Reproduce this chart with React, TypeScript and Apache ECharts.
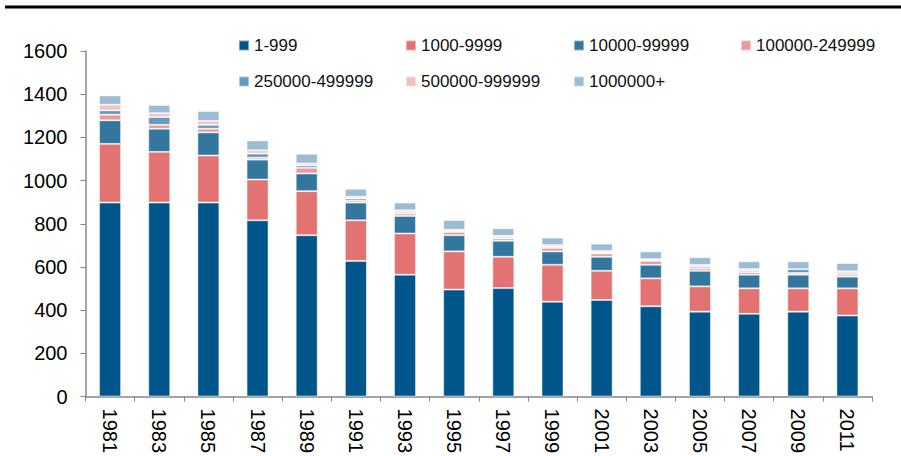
import React, { useEffect, useRef } from "react";
import * as echarts from "echarts";

const years = ["1981", "1983", "1985", "1987", "1989", "1991", "1993", "1995", "1997", "1999", "2001", "2003", "2005", "2007", "2009", "2011"];
const seriesNames = ["1-999", "1000-9999", "10000-99999", "100000-249999", "250000-499999", "500000-999999", "1000000+"];
const s1 = [898, 898, 898, 816, 747, 628, 564, 495, 502, 439, 447, 418, 393, 383, 393, 375];
const s2 = [272, 235, 218, 189, 204, 188, 191, 177, 145, 171, 135, 129, 117, 118, 108, 126];
const s3 = [109, 107, 107, 92, 82, 82, 81, 75, 74, 62, 65, 63, 72, 63, 63, 54];
const s4 = [26, 18, 17, 9, 26, 9, 11, 15, 11, 16, 15, 18, 11, 11, 8, 9];
const s5 = [20, 36, 18, 19, 11, 10, 7, 3, 7, 5, 5, 5, 8, 7, 18, 8];
const s6 = [26, 18, 18, 15, 9, 8, 8, 7, 5, 8, 7, 3, 8, 8, 0, 8];
const s7 = [43, 38, 46, 46, 45, 37, 36, 45, 35, 35, 34, 36, 36, 36, 36, 38];
const seriesData = [s1, s2, s3, s4, s5, s6, s7];
const colors = ["#00568a", "#e37272", "#33779f", "#ec9898", "#6699bb", "#f2c1c1", "#9bbcd2"];
const yTicks = { min: 0, max: 1600, interval: 200 };

const legendLeft = [238, 405, 573, 740, 238, 405, 573];
const legendTop = [37, 37, 37, 37, 73, 73, 73];

export default function App() {
  const ref = useRef<HTMLDivElement>(null);
  useEffect(() => {
    if (!ref.current) return;
    const chart = echarts.init(ref.current, null, { renderer: "svg" });
    const font = "'Liberation Sans', Arial, sans-serif";
    chart.setOption({
      animation: false,
      backgroundColor: "#ffffff",
      textStyle: { fontFamily: font },
      grid: { left: 85.5, right: 29, top: 51, bottom: 58, containLabel: false },
      legend: seriesNames.map((n, i) => ({
        data: [n],
        left: legendLeft[i],
        top: legendTop[i],
        padding: 0,
        icon: "rect",
        itemWidth: 10,
        itemHeight: 10,
        selectedMode: false,
        textStyle: { fontSize: 17, color: "#111", fontFamily: font },
      })),
      graphic: [
        {
          type: "line",
          shape: { x1: 5, y1: 7, x2: 901, y2: 7 },
          style: { stroke: "#000", lineWidth: 3 },
        },
      ],
      xAxis: {
        type: "category",
        data: years,
        axisLine: { lineStyle: { color: "#868686", width: 1.5 } },
        axisTick: { show: true, length: 5, lineStyle: { color: "#868686" } },
        axisLabel: { rotate: -90, fontSize: 20, color: "#000", margin: 12, fontFamily: font },
      },
      yAxis: {
        type: "value",
        min: yTicks.min,
        max: yTicks.max,
        interval: yTicks.interval,
        splitLine: { show: false },
        axisLine: { show: true, lineStyle: { color: "#868686", width: 1.5 } },
        axisTick: { show: true, length: 5, lineStyle: { color: "#868686" } },
        axisLabel: {
          fontSize: 20,
          color: "#000",
          margin: 18,
          fontFamily: font,
          formatter: (v: number) => String(v),
        },
      },
      series: seriesNames.map((n, i) => ({
        name: n,
        type: "bar",
        stack: "total",
        barWidth: 22,
        data: seriesData[i],
        itemStyle: { color: colors[i], borderColor: "rgba(255,255,255,0.45)", borderWidth: 1 },
        emphasis: { disabled: true },
      })),
    });
    return () => chart.dispose();
  }, []);
  return <div ref={ref} style={{ position: "fixed", left: 0, top: 0, width: 901, height: 456 }} />;
}
